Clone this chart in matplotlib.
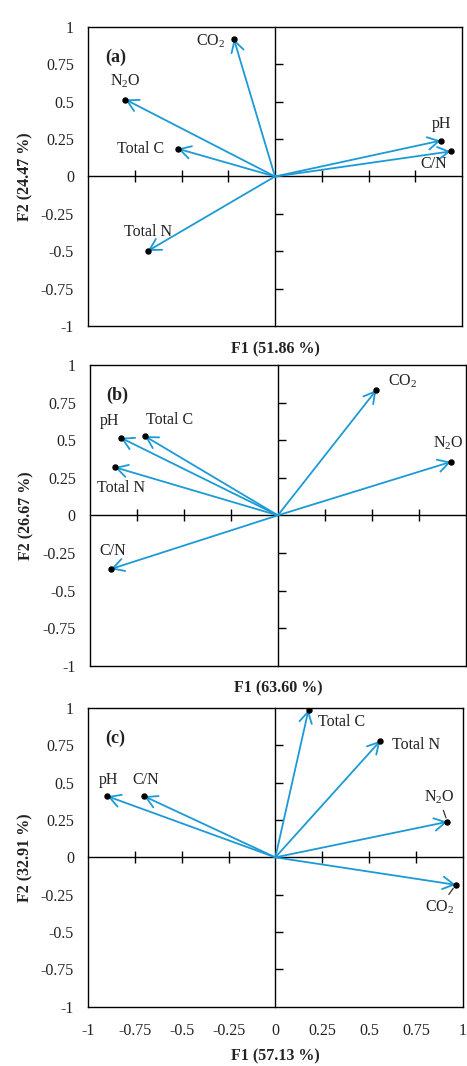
import numpy as np
import matplotlib
matplotlib.use("Agg")
import matplotlib.pyplot as plt

plt.rcParams['font.family'] = ['Liberation Serif', 'DejaVu Serif']
plt.rcParams['mathtext.fontset'] = 'custom'
plt.rcParams['mathtext.rm'] = 'Liberation Serif'
plt.rcParams['mathtext.it'] = 'Liberation Serif:italic'
plt.rcParams['mathtext.bf'] = 'Liberation Serif:bold'

# PCA loadings (F1, F2) for each variable, one set per panel
names_a = ['CO$_2$', 'N$_2$O', 'Total C', 'pH', 'C/N', 'Total N']
f1_a = [-0.22, -0.80, -0.52, 0.886, 0.94, -0.68]
f2_a = [0.92, 0.515, 0.186, 0.24, 0.168, -0.498]

names_b = ['CO$_2$', 'N$_2$O', 'pH', 'Total C', 'Total N', 'C/N']
f1_b = [0.523, 0.92, -0.835, -0.707, -0.867, -0.887]
f2_b = [0.833, 0.356, 0.516, 0.527, 0.32, -0.357]

names_c = ['Total C', 'Total N', 'N$_2$O', 'pH', 'C/N', 'CO$_2$']
f1_c = [0.177, 0.56, 0.918, -0.896, -0.70, 0.963]
f2_c = [0.987, 0.78, 0.238, 0.409, 0.409, -0.184]

var_a = (51.86, 24.47)
var_b = (63.60, 26.67)
var_c = (57.13, 32.91)

ticks = [-1, -0.75, -0.5, -0.25, 0, 0.25, 0.5, 0.75, 1]
tick_labels = ['-1', '-0.75', '-0.5', '-0.25', '0', '0.25', '0.5', '0.75', '1']
inner_ticks = [-0.75, -0.5, -0.25, 0.25, 0.5, 0.75]

# label offsets in points (dx, dy) and whether a leader line is drawn
offs_a = [(-17, -2, False), (0, 13, False), (-27, 0, False), (0.5, 12, False),
          (-12, -9, False), (0, 14, False)]
offs_b = [(19, 6, False), (-2, 13, False), (-8, 12, False), (17.5, 11.5, False),
          (4.5, -15, False), (1, 13, False)]
offs_c = [(24, -9, False), (26, -3, False), (-6, 17.5, True), (0.5, 12, False),
          (1.3, 12, False), (-11.5, -16, True)]

blue = '#1c9ad6'

fig = plt.figure(figsize=(4.67, 10.66), dpi=100)
rects = [
    [88 / 467, 1 - 326 / 1066, 374 / 467, 299 / 1066],
    [89.7 / 467, 1 - 665.7 / 1066, 376.3 / 467, 300.7 / 1066],
    [88 / 467, 1 - 1006.7 / 1066, 374.7 / 467, 298.7 / 1066],
]
panels = [
    ('(a)', names_a, f1_a, f2_a, offs_a, var_a, False, -0.050),
    ('(b)', names_b, f1_b, f2_b, offs_b, var_b, False, -0.050),
    ('(c)', names_c, f1_c, f2_c, offs_c, var_c, True, -0.141),
]

for rect, (tag, names, xs, ys, offs, var, show_x, xlab_y) in zip(rects, panels):
    ax = fig.add_axes(rect)
    ax.set_xlim(-1, 1)
    ax.set_ylim(-1, 1)
    for sp in ax.spines.values():
        sp.set_linewidth(1.0)
    ax.set_yticks(ticks)
    ax.set_yticklabels(tick_labels)
    ax.set_xticks(ticks)
    if show_x:
        ax.set_xticklabels(tick_labels)
    else:
        ax.set_xticklabels([])
    ax.tick_params(axis='both', length=0, labelsize=11.5, colors='#222222')
    ax.tick_params(axis='y', pad=10)
    ax.tick_params(axis='x', pad=12)

    # axis lines through the origin
    sx = ax.secondary_xaxis(0.5)
    sx.set_xticks(inner_ticks)
    sx.tick_params(direction='inout', length=8, width=1.0,
                   labeltop=False, labelbottom=False)
    sx.spines['top'].set_linewidth(1.0)
    sy = ax.secondary_yaxis(0.5)
    sy.set_yticks(inner_ticks)
    sy.tick_params(direction='out', length=6, width=1.0,
                   labelleft=False, labelright=False)
    sy.spines['right'].set_linewidth(1.0)

    for name, x, y, (dx, dy, lead) in zip(names, xs, ys, offs):
        ax.annotate('', xy=(x, y), xytext=(0, 0),
                    arrowprops=dict(arrowstyle='->,head_length=0.8,head_width=0.45',
                                    color=blue, lw=1.3, shrinkA=0, shrinkB=0,
                                    mutation_scale=10), zorder=3)
        ax.plot(x, y, 'o', color='black', ms=3.6, zorder=4)
        props = None
        if lead:
            props = dict(arrowstyle='-', color='#333333', lw=0.9,
                         shrinkA=1, shrinkB=3)
        ax.annotate(name, xy=(x, y), xytext=(dx, dy), textcoords='offset points',
                    ha='center', va='center', fontsize=11.5, color='#222222',
                    arrowprops=props, zorder=5)

    ax.text(0.045, 0.90, tag, transform=ax.transAxes, fontsize=13,
            fontweight='bold', ha='left', va='center', color='#222222')
    ax.set_xlabel('F1 (%.2f %%)' % var[0], fontsize=11.5, fontweight='bold',
                  color='#222222')
    ax.set_ylabel('F2 (%.2f %%)' % var[1], fontsize=11.5, fontweight='bold',
                  color='#222222')
    ax.xaxis.set_label_coords(0.5, xlab_y)
    ax.yaxis.set_label_coords(-0.147, 0.5)

fig.savefig('out.png', dpi=100)
